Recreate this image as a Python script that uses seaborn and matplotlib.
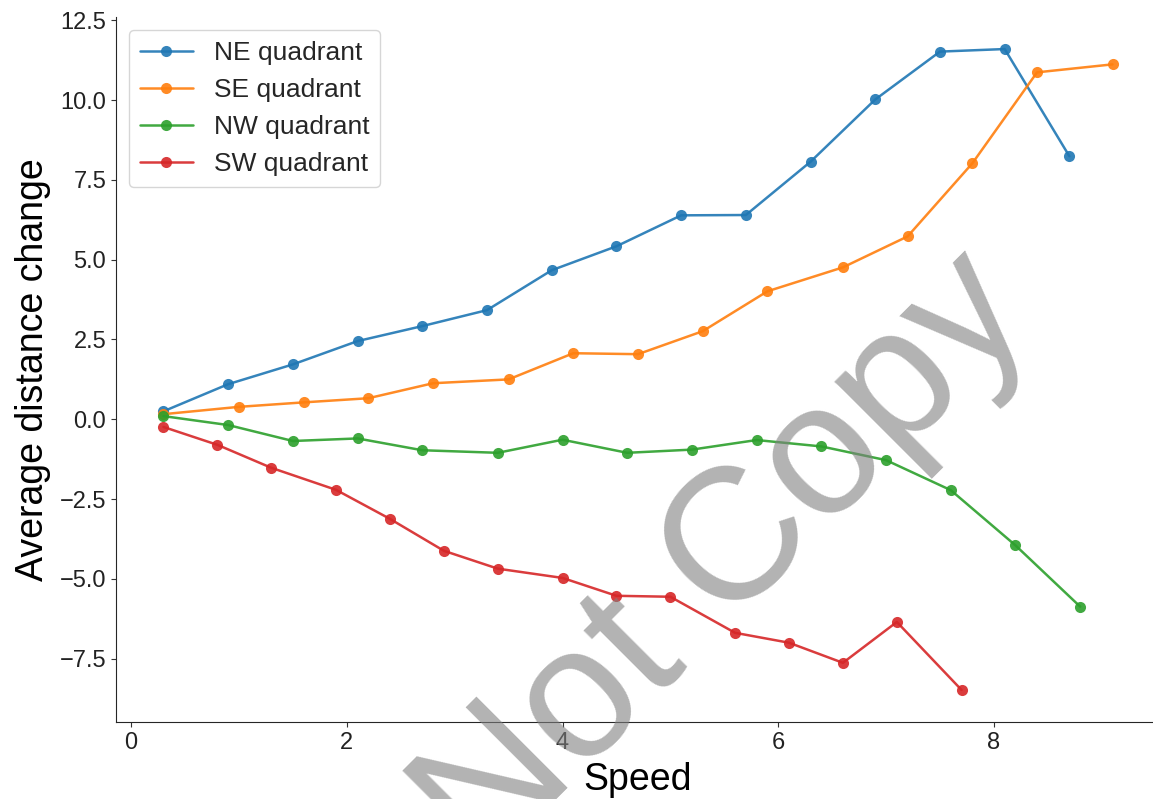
import matplotlib
matplotlib.use("Agg")
import matplotlib.pyplot as plt
import seaborn as sns
import pandas as pd

ne_x = [0.3, 0.9, 1.5, 2.1, 2.7, 3.3, 3.9, 4.5, 5.1, 5.7, 6.3, 6.9, 7.5, 8.1, 8.7]
ne_y = [0.25, 1.10, 1.72, 2.45, 2.92, 3.42, 4.67, 5.42, 6.39, 6.40, 8.07, 10.02, 11.52, 11.60, 8.24]

se_x = [0.3, 1.0, 1.6, 2.2, 2.8, 3.5, 4.1, 4.7, 5.3, 5.9, 6.6, 7.2, 7.8, 8.4, 9.1]
se_y = [0.16, 0.39, 0.53, 0.66, 1.13, 1.25, 2.07, 2.04, 2.76, 4.01, 4.76, 5.73, 8.02, 10.87, 11.12]

nw_x = [0.3, 0.9, 1.5, 2.1, 2.7, 3.4, 4.0, 4.6, 5.2, 5.8, 6.4, 7.0, 7.6, 8.2, 8.8]
nw_y = [0.10, -0.18, -0.68, -0.60, -0.97, -1.05, -0.64, -1.05, -0.95, -0.65, -0.85, -1.28, -2.22, -3.95, -5.87]

sw_x = [0.3, 0.8, 1.3, 1.9, 2.4, 2.9, 3.4, 4.0, 4.5, 5.0, 5.6, 6.1, 6.6, 7.1, 7.7]
sw_y = [-0.24, -0.80, -1.52, -2.21, -3.12, -4.12, -4.68, -4.97, -5.53, -5.56, -6.69, -7.00, -7.63, -6.35, -8.48]

labels = ["NE quadrant", "SE quadrant", "NW quadrant", "SW quadrant"]
colors = ["#1f77b4", "#ff7f0e", "#2ca02c", "#d62728"]
series = [(ne_x, ne_y), (se_x, se_y), (nw_x, nw_y), (sw_x, sw_y)]

sns.set_style("ticks")
plt.rcParams['font.family'] = ['Liberation Sans', 'DejaVu Sans']

W, H = 1153, 799
fig = plt.figure(figsize=(W / 100, H / 100), dpi=100)
ax = fig.add_axes([116 / W, 1 - 722 / H, (1160 - 116) / W, (722 - 17) / H])

for (xs, ys), lab, col in zip(series, labels, colors):
    df = pd.DataFrame({"Speed": xs, "val": ys})
    sns.lineplot(data=df, x="Speed", y="val", ax=ax, color=col, label=lab,
                 marker="o", markersize=8, markeredgewidth=0, linewidth=1.8,
                 alpha=0.9, sort=False)

sns.despine(ax=ax)
ax.set_xlabel("Speed", fontsize=27, color="black", labelpad=6)
ax.set_ylabel("Average distance change", fontsize=27, color="black", labelpad=6)
ax.tick_params(axis="both", labelsize=17, colors="#222222")
ax.tick_params(axis="both", color="#333333")
ax.set_xticks([0, 2, 4, 6, 8])
ax.legend(loc="upper left", fontsize=19, frameon=True)

fig.text(725 / W, 1 - 562 / H, "Not Copy", fontsize=135, color="gray", alpha=0.6,
         rotation=45, ha="center", va="center", rotation_mode="anchor", zorder=10)

fig.savefig("out.png", dpi=100)
